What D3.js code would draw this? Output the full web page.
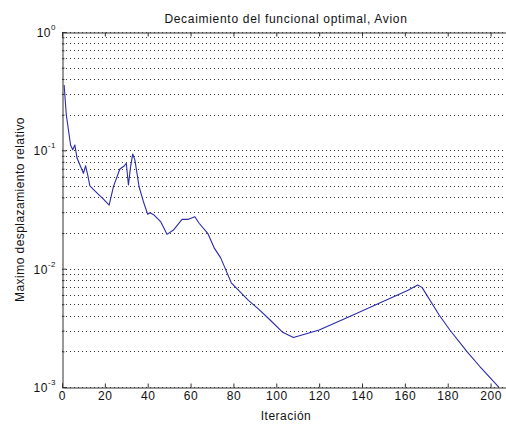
<!DOCTYPE html>
<html>
<head>
<meta charset="utf-8">
<script src="https://cdn.jsdelivr.net/npm/d3@7"></script>
<style>
  html, body { margin: 0; padding: 0; background: #fff; }
  svg { display: block; }
  text { font-family: "Liberation Sans", Arial, sans-serif; fill: #111; }
</style>
</head>
<body>
<svg id="chart" width="506" height="428"></svg>
<script>
// Iteration number and maximum relative displacement at that iteration
const iterations = [1, 2, 4, 5, 6, 7, 10, 11, 12, 13, 17, 19, 22, 24, 27, 29, 30, 31, 32, 33, 34,
  36, 38, 40, 41, 43, 46, 49, 52, 56, 59, 62, 64, 68, 71, 74, 76, 79, 83, 87, 92, 97, 103, 108,
  120, 134, 148, 161, 166, 168, 176, 181, 189, 195, 204];
const displacement = [0.356, 0.20, 0.111, 0.101, 0.111, 0.086, 0.064, 0.074, 0.062, 0.050, 0.0425,
  0.0393, 0.0345, 0.0493, 0.0695, 0.0737, 0.0777, 0.051, 0.0725, 0.093, 0.083,
  0.049, 0.0368, 0.0288, 0.0297, 0.0284, 0.025, 0.0195, 0.0212, 0.0261, 0.0261, 0.0275, 0.0242,
  0.0199, 0.0150, 0.0124, 0.0102, 0.0076, 0.0064, 0.0054, 0.0045, 0.0037, 0.0029, 0.00262,
  0.00303, 0.00393, 0.0051, 0.00652, 0.00728, 0.00695, 0.00406, 0.00303, 0.00199, 0.00149, 0.00099];

const xTicks = [0, 20, 40, 60, 80, 100, 120, 140, 160, 180, 200];
const yDecades = [-3, -2, -1, 0];

const titleText = "Decaimiento del funcional optimal, Avion";
const xLabelText = "Iteración";
const yLabelText = "Maximo desplazamiento relativo";

const margin = { left: 62, top: 32, right: 512, bottom: 387 };
const fontSize = 12;

const svg = d3.select("#chart");

const x = d3.scaleLinear().domain([0, 210]).range([margin.left, margin.right]);
const y = d3.scaleLog().domain([1e-3, 1]).range([margin.bottom, margin.top]);

// Minor positions (2..9 within each decade) plus the decades themselves
const gridValues = [];
yDecades.forEach(d => {
  gridValues.push(Math.pow(10, d));
  if (d < 0) for (let m = 2; m <= 9; m++) gridValues.push(m * Math.pow(10, d));
});
const minorValues = gridValues.filter(v => !yDecades.some(d => Math.abs(Math.pow(10, d) - v) < 1e-12));

const clipId = "plotArea";
svg.append("clipPath").attr("id", clipId)
  .append("rect")
  .attr("x", margin.left).attr("y", margin.top)
  .attr("width", margin.right - margin.left).attr("height", margin.bottom - margin.top);

// Dotted horizontal grid
svg.append("g").selectAll("line").data(gridValues).join("line")
  .attr("x1", margin.left).attr("x2", margin.right)
  .attr("y1", d => Math.round(y(d)) + 0.5).attr("y2", d => Math.round(y(d)) + 0.5)
  .attr("stroke", "#333").attr("stroke-width", 1)
  .attr("stroke-dasharray", "1,3");

// Data line
const line = d3.line()
  .x((d, i) => x(iterations[i]))
  .y(d => y(d));
svg.append("path")
  .datum(displacement)
  .attr("clip-path", `url(#${clipId})`)
  .attr("fill", "none")
  .attr("stroke", "#2a2aac")
  .attr("stroke-width", 1.1)
  .attr("stroke-linejoin", "round")
  .attr("d", line);

// Axes box with inward ticks
const axisColor = "#333";
const xAxisBottom = d3.axisBottom(x).tickValues(xTicks).tickSize(-4).tickPadding(4).tickFormat(d3.format("d"));
const gxb = svg.append("g").attr("transform", `translate(0,${margin.bottom + 0.5})`).call(xAxisBottom);
const xAxisTop = d3.axisTop(x).tickValues(xTicks).tickSize(-4).tickFormat("");
const gxt = svg.append("g").attr("transform", `translate(0,${margin.top + 0.5})`).call(xAxisTop);

const yAxisLeft = d3.axisLeft(y).tickValues(yDecades.map(d => Math.pow(10, d))).tickSize(-4).tickFormat("");
const gyl = svg.append("g").attr("transform", `translate(${margin.left + 0.5},0)`).call(yAxisLeft);
const yMinor = d3.axisLeft(y).tickValues(minorValues).tickSize(-2).tickFormat("");
svg.append("g").attr("transform", `translate(${margin.left + 0.5},0)`).call(yMinor)
  .call(g => g.select(".domain").remove());

svg.selectAll(".domain").attr("stroke", axisColor);
svg.selectAll(".tick line").attr("stroke", axisColor);

gxb.selectAll(".tick text")
  .attr("font-size", fontSize)
  .attr("font-family", "Liberation Sans, Arial, sans-serif")
  .attr("letter-spacing", 0.6)
  .attr("fill", "#111");

// Decade labels as 10 with a raised exponent
const yLab = svg.append("g").selectAll("text").data(yDecades).join("text")
  .attr("x", margin.left - 6)
  .attr("y", d => y(Math.pow(10, d)) + 5)
  .attr("text-anchor", "end")
  .attr("font-size", fontSize)
  .attr("letter-spacing", 0.5);
yLab.append("tspan").text("10");
yLab.append("tspan").attr("dy", -7).attr("font-size", 8).text(d => d);

// Title and axis labels
svg.append("text")
  .attr("x", 286).attr("y", 23)
  .attr("text-anchor", "middle")
  .attr("font-size", fontSize)
  .attr("letter-spacing", 0.7)
  .text(titleText);

svg.append("text")
  .attr("x", 286).attr("y", 420)
  .attr("text-anchor", "middle")
  .attr("font-size", fontSize)
  .attr("letter-spacing", 0.5)
  .text(xLabelText);

svg.append("text")
  .attr("transform", `translate(24,${(margin.top + margin.bottom) / 2}) rotate(-90)`)
  .attr("text-anchor", "middle")
  .attr("font-size", fontSize)
  .attr("letter-spacing", 0.45)
  .text(yLabelText);
</script>
</body>
</html>
